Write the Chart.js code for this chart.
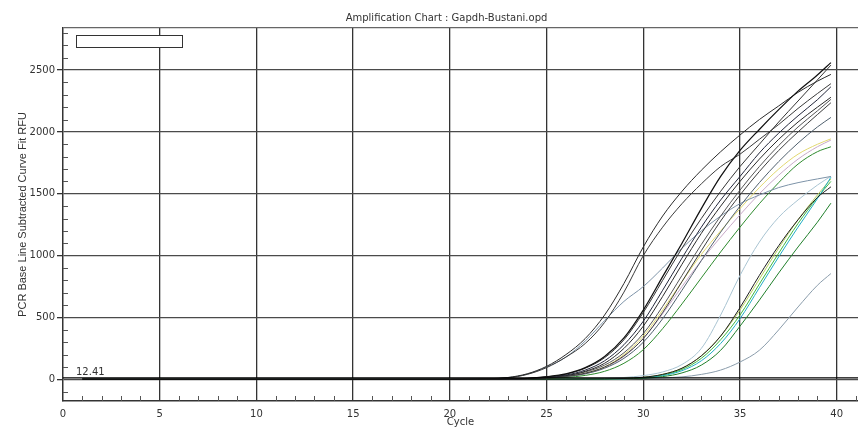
<!DOCTYPE html>
<html><head><meta charset="utf-8">
<script src="https://cdn.jsdelivr.net/npm/chart.js@4.4.1/dist/chart.umd.min.js"></script>
<style>html,body{margin:0;padding:0;background:#fff}canvas{display:block}</style>
</head><body>
<canvas id="c" width="858" height="428"></canvas>
<script>
// ---- text ----
const chartTitle = 'Amplification Chart : Gapdh-Bustani.opd';
const xTitle = 'Cycle';
const yTitle = 'PCR Base Line Subtracted Curve Fit RFU';
const threshold = 12.41;
const thresholdLabel = '12.41';

// ---- axes ----
const xRange = [0, 41.1];
const yRange = [-175, 2840];
const xMajorStep = 5, xMinorStep = 1;
const yMajorStep = 500, yMinorStep = 100;

// ---- cycles at which values were read ----
const cycles = [1, 20, 22, 23, 24, 25, 26, 27, 28, 29, 30, 31, 32, 33, 34, 35, 36, 37, 38, 39, 39.7];

// ---- RFU values per well ----
const wellA1 = [0,0,5,15,45,105,200,330,520,775,1070,1320,1520,1690,1840,1975,2100,2210,2320,2410,2465];
const wellA2 = [0,0,3,12,40,95,180,290,460,705,1000,1230,1420,1580,1720,1820,1940,2060,2190,2310,2390];
const wellB1 = [0,0,1,3,8,22,45,95,185,335,560,830,1100,1380,1640,1850,2020,2180,2330,2460,2560];
const wellB2 = [0,0,1,3,7,20,42,90,175,320,540,800,1060,1300,1520,1720,1900,2080,2250,2420,2540];
const wellB3 = [0,0,1,2,6,18,35,75,150,280,470,720,980,1230,1450,1640,1830,1990,2130,2260,2365];
const wellB4 = [0,0,1,2,5,15,30,65,130,250,430,670,930,1180,1400,1600,1780,1940,2080,2200,2280];
const wellB5 = [0,0,1,2,5,14,28,60,115,215,370,590,840,1090,1320,1530,1720,1890,2040,2170,2263];
const wellB6 = [0,0,1,2,4,12,25,50,100,190,330,540,790,1040,1280,1490,1680,1850,2000,2140,2236];
const wellB7 = [0,0,1,2,4,11,22,45,90,170,300,490,720,960,1190,1400,1590,1760,1910,2040,2117];
const wellC1 = [0,0,0,0,0,1,1,2,3,7,17,40,90,190,350,580,840,1080,1290,1470,1556];
const wellG1 = [0,0,4,14,42,100,180,310,475,630,750,900,1060,1200,1320,1420,1490,1550,1590,1620,1640];
const wellB8 = [0,0,1,2,4,10,22,50,100,200,350,560,790,1010,1200,1380,1550,1700,1820,1900,1944];
const wellB9 = [0,0,1,2,3,10,20,45,95,185,330,530,750,960,1150,1330,1500,1650,1780,1880,1934];
const wellB10 = [0,0,0,1,3,8,15,32,65,130,240,410,610,820,1030,1230,1420,1590,1740,1840,1880];
const wellC2 = [0,0,0,0,0,0,1,2,3,5,9,22,52,115,235,430,640,860,1070,1270,1424];
const wellC3 = [0,0,0,0,0,0,1,2,3,5,12,30,70,150,290,490,740,990,1230,1460,1634];
const wellC4 = [0,0,0,0,0,0,1,2,4,7,14,35,80,170,320,520,770,1020,1260,1470,1600];
const wellC5 = [0,0,0,0,0,1,1,2,4,8,16,40,90,190,350,560,810,1060,1290,1490,1620];
const wellC6 = [0,0,0,0,0,1,2,4,8,15,30,60,120,250,520,840,1110,1310,1450,1570,1642];
const wellC7 = [0,0,0,0,0,0,0,1,2,4,8,12,20,40,75,140,235,400,585,760,855];

const wells = [wellB1, wellA1, wellA2, wellB2, wellB3, wellB4, wellB5, wellB6, wellC1,
               wellB7, wellG1, wellB10, wellC2, wellB8, wellB9, wellC3, wellC4, wellC5, wellC6, wellC7];
const wellColors = ['#111111', '#2b2b2b', '#3a3a3a', '#333333', '#22263a', '#2a2a2a', '#555555', '#3c3c3c', '#1c1c1c',
                    '#50606e', '#7d93a8', '#2d8a2d', '#1f7f2a', '#e2d870', '#c8aac8', '#22aec4', '#3cb83c', '#b8d060', '#a9c4d2', '#8a9cab'];

const FONT = "'DejaVu Sans', sans-serif";

const datasets = wells.map((vals, i) => ({
  data: cycles.map((c, j) => ({x: c, y: vals[j]})),
  borderColor: wellColors[i],
  borderWidth: i === 0 ? 1.25 : 1,
  pointRadius: 0,
  cubicInterpolationMode: 'monotone',
  fill: false
}));
datasets.unshift({
  data: [{x: xRange[0], y: threshold}, {x: xRange[1], y: threshold}],
  borderColor: '#000',
  borderWidth: 1.2,
  pointRadius: 0,
  fill: false
});

const deco = {
  id: 'deco',
  afterDraw(chart) {
    const {ctx, chartArea: a, scales: {x, y}} = chart;
    ctx.save();
    // inner minor ticks
    ctx.strokeStyle = '#555';
    ctx.lineWidth = 1;
    ctx.beginPath();
    for (let c = xRange[0] + xMinorStep; c < xRange[1]; c += xMinorStep) {
      if (c % xMajorStep === 0) continue;
      const px = Math.round(x.getPixelForValue(c)) + 0.5;
      ctx.moveTo(px, a.bottom); ctx.lineTo(px, a.bottom - 5);
    }
    for (let v = -yMinorStep; v < yRange[1]; v += yMinorStep) {
      if (v % yMajorStep === 0) continue;
      const py = Math.round(y.getPixelForValue(v)) + 0.5;
      ctx.moveTo(a.left, py); ctx.lineTo(a.left + 5, py);
    }
    ctx.stroke();
    // empty legend box
    ctx.fillStyle = '#fff';
    ctx.fillRect(76.5, 35.5, 106, 12);
    ctx.strokeStyle = '#333';
    ctx.strokeRect(76.5, 35.5, 106, 12);
    // threshold label
    ctx.fillStyle = '#333';
    ctx.font = '10px ' + FONT;
    ctx.textAlign = 'left';
    ctx.textBaseline = 'alphabetic';
    ctx.fillText(thresholdLabel, 76, y.getPixelForValue(threshold) - 3);
    // chart title
    ctx.textAlign = 'center';
    ctx.fillText(chartTitle, 446.5, 20.5);
    ctx.restore();
  }
};

new Chart(document.getElementById('c'), {
  type: 'line',
  data: {datasets},
  options: {
    responsive: false,
    animation: false,
    devicePixelRatio: 1,
    layout: {padding: {top: 28, left: 0, right: 0, bottom: 0}},
    plugins: {legend: {display: false}, title: {display: false}, tooltip: {enabled: false}},
    scales: {
      x: {
        type: 'linear',
        min: xRange[0], max: xRange[1],
        afterFit(s) { s.height = 27; s.paddingLeft = 0; s.paddingRight = 0; },
        ticks: {
          stepSize: xMinorStep, autoSkip: false, maxRotation: 0, padding: 7,
          color: '#333', font: {family: FONT, size: 10},
          callback: (v) => (v % xMajorStep === 0 ? String(v) : '')
        },
        grid: {
          drawTicks: false,
          lineWidth: 1.3,
          color: (c) => (c.tick && c.tick.value > 0 && c.tick.value % xMajorStep === 0 ? '#333' : 'rgba(0,0,0,0)')
        },
        border: {display: true, color: '#333', width: 1.5},
        title: {display: true, text: xTitle, color: '#333', font: {family: FONT, size: 10}, padding: {top: 0, bottom: 0}}
      },
      y: {
        type: 'linear',
        min: yRange[0], max: yRange[1],
        afterFit(s) { s.width = 63; s.paddingTop = 0; s.paddingBottom = 0; },
        ticks: {
          stepSize: yMinorStep, autoSkip: false, padding: 2,
          color: '#333', font: {family: FONT, size: 10},
          callback: (v) => (v >= 0 && v % yMajorStep === 0 ? String(v) : '')
        },
        grid: {
          drawTicks: true,
          tickLength: 6,
          lineWidth: 1.3,
          color: (c) => {
            const v = c.tick && c.tick.value;
            if (v === yRange[1]) return '#666';
            return (v >= 0 && v % yMajorStep === 0) ? '#4a4a4a' : 'rgba(0,0,0,0)';
          },
          tickColor: (c) => {
            const v = c.tick && c.tick.value;
            return (v >= 0 && v % yMajorStep === 0) ? '#333' : 'rgba(0,0,0,0)';
          }
        },
        border: {display: true, color: '#333', width: 1.5},
        title: {display: true, text: yTitle, color: '#333', font: {family: "'Liberation Sans', Arial, sans-serif", size: 11}, padding: {top: 16, bottom: 0}}
      }
    }
  },
  plugins: [deco]
});
</script>
</body></html>
